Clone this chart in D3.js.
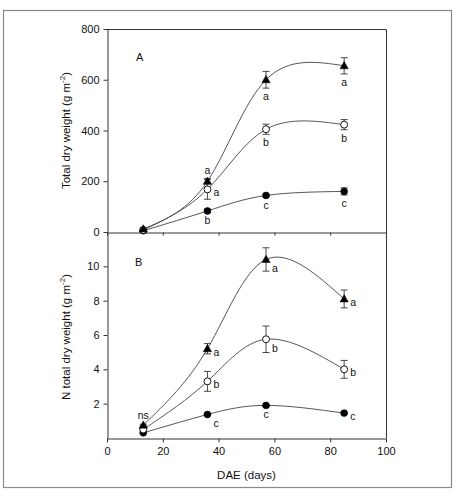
<!DOCTYPE html>
<html>
<head>
<meta charset="utf-8">
<script src="https://cdn.jsdelivr.net/npm/d3@7"></script>
<style>
  html, body { margin: 0; padding: 0; background: #fff; }
  svg { display: block; font-family: "Liberation Sans", Arial, sans-serif; }
</style>
</head>
<body>
<svg id="chart" width="469" height="497"></svg>
<script>
// ---------- DATA ----------
const dae = [13, 36, 57, 85];

// Panel A: Total dry weight (g m-2)
const totalTriangle     = [12, 200, 600, 655];
const totalTriangleErr  = [4, 10, 33, 32];
const totalOpen         = [8, 168, 405, 423];
const totalOpenErr      = [3, 39, 20, 20];
const totalFilled       = [5, 83, 144, 160];
const totalFilledErr    = [2, 6, 5, 14];
const totalTriangleLbl  = ["", "a", "a", "a"];
const totalTrianglePos  = ["", "above", "below", "below"];
const totalOpenLbl      = ["", "a", "b", "b"];
const totalOpenPos      = ["", "right", "below", "below"];
const totalFilledLbl    = ["", "b", "c", "c"];
const totalFilledPos    = ["", "below", "below", "below"];

// Panel B: N total dry weight (g m-2)
const nTriangle     = [0.75, 5.2, 10.4, 8.1];
const nTriangleErr  = [0.05, 0.3, 0.68, 0.52];
const nOpen         = [0.5, 3.3, 5.75, 4.0];
const nOpenErr      = [0.05, 0.58, 0.77, 0.52];
const nFilled       = [0.3, 1.37, 1.9, 1.45];
const nFilledErr    = [0.03, 0.05, 0.05, 0.05];
const nTriangleLbl  = ["ns", "a", "a", "a"];
const nTrianglePos  = ["above", "right", "rightlow", "right"];
const nOpenLbl      = ["", "b", "b", "b"];
const nOpenPos      = ["", "right", "rightlow", "right"];
const nFilledLbl    = ["", "c", "c", "c"];
const nFilledPos    = ["", "rightlow", "below", "right"];

const xTicks  = [0, 20, 40, 60, 80, 100];
const yTicksA = [0, 200, 400, 600, 800];
const yTicksB = [2, 4, 6, 8, 10];

// ---------- LAYOUT ----------
const svg = d3.select("#chart");
const L = 107, R = 386;
const topA = 29, botA = 232, botB = 438;
const ink = "#333";

svg.append("rect").attr("x", 3.5).attr("y", 10.5).attr("width", 448).attr("height", 477)
  .attr("fill", "none").attr("stroke", "#8a8a8a").attr("stroke-width", 1.2);

const x = d3.scaleLinear().domain([0, 100]).range([L, R]);
const yA = d3.scaleLinear().domain([0, 800]).range([botA, topA]);
const yB = d3.scaleLinear().domain([0, 12]).range([botB, botA]);

function axisStyle(g) {
  g.selectAll("path").attr("stroke", ink).attr("stroke-width", 1);
  g.selectAll("line").attr("stroke", ink);
  g.selectAll("text").attr("fill", "#111").style("font-size", "11px")
    .style("font-family", "'Liberation Sans', Arial, sans-serif");
}

// Panel A frame: top & right lines
svg.append("path").attr("d", `M${L},${topA + 0.5}H${R + 0.5}V${botB}`)
  .attr("fill", "none").attr("stroke", ink).attr("stroke-width", 1);

// Left axes
svg.append("g").attr("transform", `translate(${L + 0.5},0)`)
  .call(d3.axisLeft(yA).tickValues(yTicksA).tickSize(4).tickPadding(4).tickSizeOuter(0))
  .call(axisStyle);
svg.append("g").attr("transform", `translate(${L + 0.5},0)`)
  .call(d3.axisLeft(yB).tickValues(yTicksB).tickSize(4).tickPadding(4).tickSizeOuter(0))
  .call(axisStyle);

// Bottom axes
svg.append("g").attr("transform", `translate(0,${botA + 0.5})`)
  .call(d3.axisBottom(x).tickValues(xTicks).tickSize(3).tickFormat("").tickSizeOuter(0))
  .call(axisStyle);
svg.append("g").attr("transform", `translate(0,${botB + 0.5})`)
  .call(d3.axisBottom(x).tickValues(xTicks).tickSize(4).tickPadding(5).tickSizeOuter(0))
  .call(axisStyle);

// Axis titles
function sup(textSel, main, tail) {
  textSel.append("tspan").text(main);
  textSel.append("tspan").text("-2").attr("dy", -5).style("font-size", "8px");
  textSel.append("tspan").text(tail).attr("dy", 5);
}
const tA = svg.append("text").attr("transform", `translate(70,${(topA + botA) / 2}) rotate(-90)`)
  .attr("text-anchor", "middle").style("font-size", "11.5px").attr("fill", "#111");
sup(tA, "Total dry weight  (g m", ")");
const tB = svg.append("text").attr("transform", `translate(70,${(botA + botB) / 2 + 2}) rotate(-90)`)
  .attr("text-anchor", "middle").style("font-size", "11.5px").attr("fill", "#111");
sup(tB, "N total dry weight (g m", ")");
svg.append("text").attr("x", (L + R) / 2).attr("y", 479).attr("text-anchor", "middle")
  .style("font-size", "11.5px").attr("fill", "#111").text("DAE (days)");

svg.append("text").attr("x", 136).attr("y", 61).style("font-size", "11px").attr("fill", "#111").text("A");
svg.append("text").attr("x", 135).attr("y", 266).style("font-size", "11px").attr("fill", "#111").text("B");

// ---------- SERIES ----------
function drawSeries(y, vals, errs, kind, lbls, pos) {
  const pts = dae.map((d, i) => ({ x: d, v: vals[i], e: errs[i], l: lbls[i], p: pos[i] }));
  const line = d3.line().x(d => x(d.x)).y(d => y(d.v)).curve(d3.curveNatural);
  svg.append("path").datum(pts).attr("d", line).attr("fill", "none")
    .attr("stroke", "#444").attr("stroke-width", 0.9);
  // error bars
  const eb = svg.append("g").attr("stroke", "#333").attr("stroke-width", 0.9);
  pts.forEach(d => {
    const cx = x(d.x), y1 = y(d.v + d.e), y2 = y(d.v - d.e);
    eb.append("line").attr("x1", cx).attr("x2", cx).attr("y1", y1).attr("y2", y2);
    eb.append("line").attr("x1", cx - 3.5).attr("x2", cx + 3.5).attr("y1", y1).attr("y2", y1);
    eb.append("line").attr("x1", cx - 3.5).attr("x2", cx + 3.5).attr("y1", y2).attr("y2", y2);
  });
  // markers
  const sym = kind === "triangle" ? d3.symbolTriangle : d3.symbolCircle;
  const size = kind === "triangle" ? 30 : 38;
  svg.append("g").selectAll("path").data(pts).join("path")
    .attr("transform", d => `translate(${x(d.x)},${y(d.v) + (kind === "triangle" ? 0.6 : 0)})`)
    .attr("d", d3.symbol().type(sym).size(size))
    .attr("fill", kind === "open" ? "#fff" : "#000")
    .attr("stroke", "#000").attr("stroke-width", kind === "open" ? 0.9 : 0.5);
  // significance letters
  svg.append("g").selectAll("text").data(pts.filter(d => d.l)).join("text")
    .style("font-size", "10.5px").attr("fill", "#111")
    .attr("text-anchor", d => d.p.startsWith("right") ? "start" : "middle")
    .attr("x", d => d.p.startsWith("right") ? x(d.x) + 6 : x(d.x))
    .attr("y", d => {
      if (d.p === "above") return y(d.v + d.e) - 5;
      if (d.p === "below") return y(d.v - d.e) + 12;
      if (d.p === "rightlow") return y(d.v) + 13;
      return y(d.v) + 7;
    })
    .text(d => d.l);
}

drawSeries(yA, totalFilled, totalFilledErr, "filled", totalFilledLbl, totalFilledPos);
drawSeries(yA, totalOpen, totalOpenErr, "open", totalOpenLbl, totalOpenPos);
drawSeries(yA, totalTriangle, totalTriangleErr, "triangle", totalTriangleLbl, totalTrianglePos);

drawSeries(yB, nFilled, nFilledErr, "filled", nFilledLbl, nFilledPos);
drawSeries(yB, nOpen, nOpenErr, "open", nOpenLbl, nOpenPos);
drawSeries(yB, nTriangle, nTriangleErr, "triangle", nTriangleLbl, nTrianglePos);
</script>
</body>
</html>
